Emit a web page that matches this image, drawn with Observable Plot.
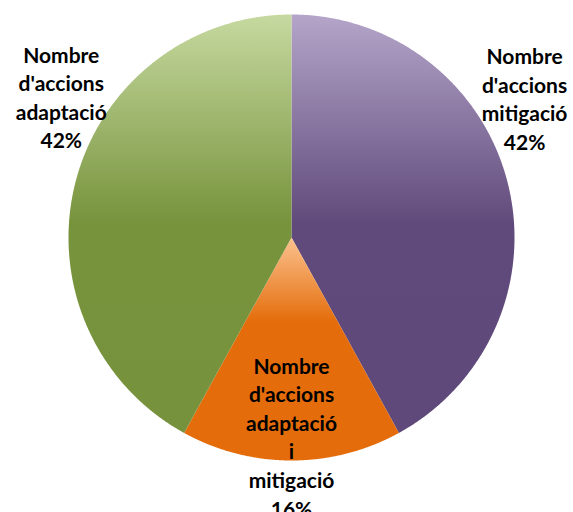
<!DOCTYPE html>
<html><head><meta charset="utf-8">
<script src="https://cdn.jsdelivr.net/npm/d3@7"></script>
<script src="https://cdn.jsdelivr.net/npm/@observablehq/plot@0.6"></script>
<style>body{margin:0;background:#fff;overflow:hidden}</style>
</head><body><div id="chart"></div>
<script>
// ---- data ----
const categories = ["Nombre d'accions mitigació", "Nombre d'accions adaptació i mitigació", "Nombre d'accions adaptació"];
const values = [42, 16, 42];
const labelLines = [
  ["Nombre", "d'accions", "mitigació"],
  ["Nombre", "d'accions", "adaptació", "i", "mitigació"],
  ["Nombre", "d'accions", "adaptació"]
];

// ---- layout / style ----
const W = 573, H = 512, CX = 291, CY = 237, R = 223;
const gradients = [
  {id: "g0", stops: [[0, "#b4a5c9"], [0.5, "#604a7b"], [1, "#5f497a"]]},
  {id: "g1", stops: [[0, "#fbc28f"], [0.38, "#e46c0a"], [1, "#e46c0a"]]},
  {id: "g2", stops: [[0, "#c6d9a0"], [0.5, "#77933c"], [1, "#76923c"]]}
];
const labelPolar = [[59.1, 1.218], [180, 0.89], [301.5, 1.211]]; // angle (deg, clockwise from top), radius factor

const arcs = d3.pie().sort(null).value(d => d)(values);
const poly = [];
arcs.forEach((a, i) => {
  poly.push({k: i, x: 0, y: 0, fill: `url(#${gradients[i].id})`});
  const steps = Math.max(2, Math.ceil((a.endAngle - a.startAngle) / (Math.PI / 720)));
  for (let s = 0; s <= steps; s++) {
    const t = a.startAngle + (a.endAngle - a.startAngle) * s / steps;
    poly.push({k: i, x: Math.sin(t), y: Math.cos(t), fill: `url(#${gradients[i].id})`});
  }
  poly.push({k: i, x: 0, y: 0, fill: `url(#${gradients[i].id})`});
});

const total = d3.sum(values);
const labels = categories.map((c, i) => {
  const [deg, f] = labelPolar[i];
  const t = deg * Math.PI / 180;
  return {
    x: Math.sin(t) * f, y: Math.cos(t) * f,
    text: labelLines[i].join("\n") + "\n" + Math.round(values[i] / total * 100) + "%"
  };
});

const svg = Plot.plot({
  width: W, height: H,
  margin: 0,
  x: {domain: [-CX / R, (W - CX) / R], axis: null},
  y: {domain: [(CY - H) / R, CY / R], axis: null},
  color: {type: "identity"},
  style: {background: "#fff"},
  marks: [
    Plot.line(poly, {x: "x", y: "y", z: "k", fill: "fill", stroke: "none", curve: "linear"}),
    Plot.text(labels, {
      x: "x", y: "y", text: "text",
      fontSize: 21, fontWeight: "bold", fontFamily: "Lato, 'Open Sans', sans-serif",
      lineHeight: 1.36, lineAnchor: "middle", textAnchor: "middle", fill: "#000"
    })
  ]
});

const defs = d3.create("svg:defs");
gradients.forEach(g => {
  const lg = defs.append("linearGradient").attr("id", g.id)
    .attr("x1", 0).attr("y1", 0).attr("x2", 0).attr("y2", 1);
  g.stops.forEach(([o, c]) => lg.append("stop").attr("offset", o).attr("stop-color", c));
});
svg.insertBefore(defs.node(), svg.firstChild);
document.getElementById("chart").appendChild(svg);
</script>
</body></html>
